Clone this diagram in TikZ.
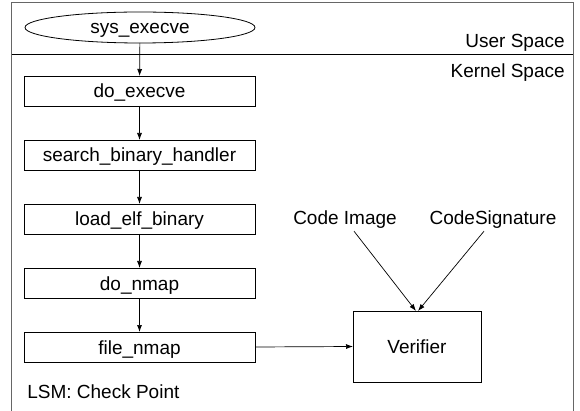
\documentclass[tikz,border=0pt]{standalone}
\usepackage{fontspec}
\setmainfont{Liberation Sans}
\usetikzlibrary{shapes.geometric,arrows.meta}
\begin{document}
\begin{tikzpicture}[x=1pt,y=-1pt,
  every node/.style={font=\fontsize{19}{22}\selectfont,outer sep=0pt},
  fnbox/.style={draw,line width=0.8pt,minimum width=231pt,minimum height=30pt,inner sep=0pt,text height=14pt,text depth=0pt},
  conn/.style={line width=0.7pt,-{Latex[length=7pt,width=5pt]}},
  frameline/.style={draw=gray!80!black,line width=1.2pt}]
\useasboundingbox (0,0) rectangle (580,411);
\draw[frameline] (11.7,411) -- (11.7,2.7) -- (573.3,2.7) -- (573.3,411);
\draw[line width=1pt] (11.7,55) -- (573.3,55);
\node[draw,ellipse,line width=0.8pt,minimum width=230pt,minimum height=31pt,inner sep=0pt,text height=13.5pt,text depth=0.5pt] (sys) at (140,27.5) {sys\_execve};
\node[anchor=base east] (us) at (568,48) {User Space};
\node[anchor=base east] (ks) at (568,78) {Kernel Space};
\node[fnbox] (de) at (139.5,91) {do\_execve};
\node[fnbox] (sb) at (139.5,155) {search\_binary\_handler};
\node[fnbox] (le) at (139.5,219) {load\_elf\_binary};
\node[fnbox] (dn) at (139.5,283) {do\_nmap};
\node[fnbox] (fn) at (139.5,347) {file\_nmap};
\node[anchor=base west] (lsm) at (24,398) {LSM: Check Point};
\node[draw,line width=0.8pt,minimum width=128pt,minimum height=71pt,inner sep=0pt,text height=13.5pt,text depth=0.5pt] (ver) at (417,346.5) {Verifier};
\node (ci) at (345,220) {Code Image};
\node (cs) at (493,220) {CodeSignature};
\draw[conn] (sys) -- (de);
\draw[conn] (de) -- (sb);
\draw[conn] (sb) -- (le);
\draw[conn] (le) -- (dn);
\draw[conn] (dn) -- (fn);
\draw[conn] (fn.east) -- (ver.west);
\draw[conn] (ci.south -| 354,0) ++(0,-1) -- ([xshift=-1pt]ver.north);
\draw[conn] (cs.south -| 484,0) ++(0,-1) -- ([xshift=1pt]ver.north);
\end{tikzpicture}
\end{document}
